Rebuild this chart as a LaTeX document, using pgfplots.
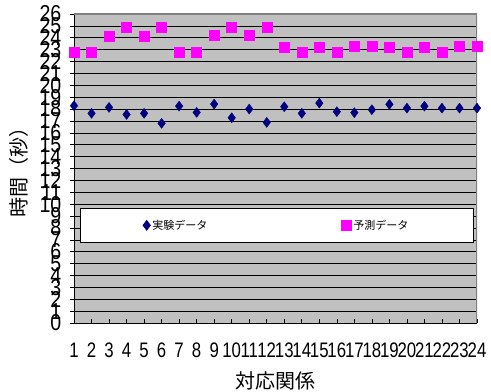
\documentclass[border=0pt]{standalone}
\usepackage{pgfplots}
\pgfplotsset{compat=1.18}
\usetikzlibrary{calc}
\usepackage{fontspec}
\setmainfont{Liberation Sans}
\newfontfamily\jp{Noto Sans CJK JP}
\definecolor{bggray}{HTML}{C0C0C0}
\definecolor{navy}{HTML}{000080}
\definecolor{mag}{HTML}{FF00FF}
\begin{document}
\begin{tikzpicture}[x=1pt,y=1pt]
\begin{axis}[
  name=ax,
  scale only axis,
  width=403pt, height=309pt,
  xmin=1, xmax=24, ymin=0, ymax=26,
  xtick={1,...,24}, ytick={0,...,26},
  /pgf/number format/assume math mode=true,
  axis background/.style={fill=bggray},
  ymajorgrids, major grid style={black, line width=0.6pt},
  axis x line*=bottom, axis y line*=left,
  axis line style={black, line width=0.8pt},
  tick style={black, line width=0.6pt},
  major tick length=4pt,
  ytick pos=left, xtick pos=bottom,
  xtick align=inside, ytick align=outside,
  yticklabel style={font=\fontsize{23}{23}\selectfont, xscale=0.85, inner sep=0pt, xshift=-10pt},
  xticklabel style={font=\fontsize{21}{21}\selectfont, xscale=0.8, inner sep=0pt, anchor=center, yshift=-27pt},
  xlabel={\jp 対応関係}, xlabel style={font=\fontsize{20}{20}\selectfont, at={(rel axis cs:0.5,0)}, anchor=center, yshift=-58pt},
  ylabel={\jp 時間（秒）}, ylabel style={font=\fontsize{20}{20}\selectfont, at={(rel axis cs:0,0.503)}, anchor=center, yshift=55pt},
  legend columns=2,
  legend image code/.code={\draw[#1] plot coordinates {(4pt,0pt)};},
  legend style={draw=black, fill=white, line width=0.6pt,
    at={(rel axis cs:0.503,0.316)}, anchor=center,
    inner xsep=63pt, inner ysep=10pt,
    font=\jp\fontsize{11}{11}\selectfont,
    /tikz/every even column/.append style={column sep=132pt}},
  legend cell align=left,
]
\draw[color=gray, line width=1.5pt] (rel axis cs:0,1) -- (rel axis cs:1,1) -- (rel axis cs:1,0);
\addplot[only marks, mark=diamond*, mark size=5pt, color=navy] coordinates {
(1,18.28) (2,17.64) (3,18.14) (4,17.55) (5,17.64) (6,16.8) (7,18.25) (8,17.72)
(9,18.42) (10,17.27) (11,18.0) (12,16.88) (13,18.2) (14,17.64) (15,18.5) (16,17.78)
(17,17.7) (18,17.95) (19,18.4) (20,18.08) (21,18.25) (22,18.08) (23,18.08) (24,18.08)};
\addlegendentry{実験データ}
\addplot[only marks, mark=square*, mark size=5pt, color=mag] coordinates {
(1,22.8) (2,22.8) (3,24.1) (4,24.9) (5,24.1) (6,24.9) (7,22.8) (8,22.8)
(9,24.2) (10,24.9) (11,24.2) (12,24.9) (13,23.2) (14,22.8) (15,23.2) (16,22.8)
(17,23.3) (18,23.3) (19,23.2) (20,22.8) (21,23.2) (22,22.8) (23,23.3) (24,23.3)};
\addlegendentry{予測データ}
\end{axis}
\pgfresetboundingbox
\path[use as bounding box] ($(ax.south west)+(-74pt,-68pt)$) rectangle ($(ax.north east)+(14pt,14pt)$);
\end{tikzpicture}
\end{document}
